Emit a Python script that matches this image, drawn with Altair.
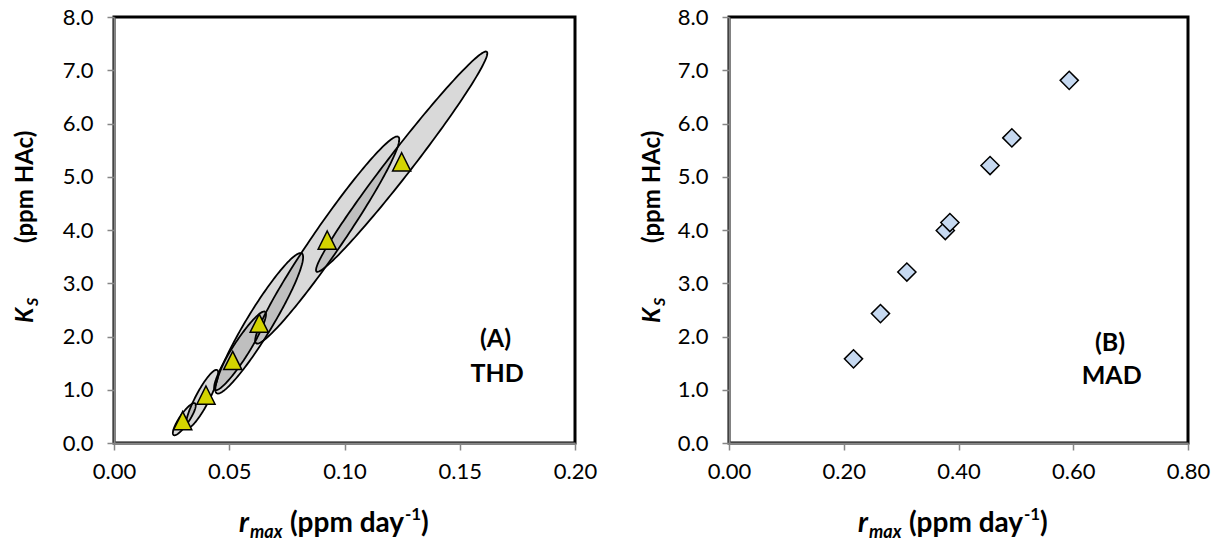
import math
import altair as alt
import pandas as pd
import numpy as np

# ---------------- data ----------------
# Panel A (THD): point estimates
thd_rmax = [0.0298, 0.0399, 0.0515, 0.0630, 0.0925, 0.1248]
thd_ks = [0.42, 0.90, 1.55, 2.25, 3.81, 5.28]

# Panel A: confidence ellipses (centre, end of the long half-axis, short/long ratio)
ell_cx = [0.0305, 0.0382, 0.0547, 0.0630, 0.0925, 0.1248]
ell_cy = [0.447, 0.826, 1.731, 2.248, 3.812, 5.283]
ell_tipx = [0.0351, 0.0447, 0.0655, 0.0814, 0.1233, 0.1617]
ell_tipy = [0.746, 1.371, 2.466, 3.563, 5.752, 7.348]
ell_ratio = [0.25, 0.20, 0.17, 0.15, 0.11, 0.085]

# Panel B (MAD)
mad_rmax = [0.217, 0.264, 0.310, 0.377, 0.385, 0.455, 0.493, 0.593]
mad_ks = [1.58, 2.43, 3.21, 3.99, 4.14, 5.21, 5.73, 6.81]

# axis ticks
a_xticks = [0.00, 0.05, 0.10, 0.15, 0.20]
b_xticks = [0.00, 0.20, 0.40, 0.60, 0.80]
yticks = [0, 1, 2, 3, 4, 5, 6, 7, 8]

A_XMAX, B_XMAX, YMAX = 0.20, 0.80, 8.0

# ---------------- ellipse geometry ----------------
area_rows, line_rows = [], []
for i in range(len(ell_cx)):
    cu, cv = ell_cx[i] / A_XMAX, ell_cy[i] / YMAX
    au, av = (ell_tipx[i] - ell_cx[i]) / A_XMAX, (ell_tipy[i] - ell_cy[i]) / YMAX
    bu, bv = -av * ell_ratio[i], au * ell_ratio[i]
    R = math.hypot(au, bu)
    phi = math.atan2(bu, au)
    for s in np.linspace(0, math.pi, 121):
        t1, t2 = phi + s, phi - s
        u = cu + R * math.cos(s)
        v1 = cv + av * math.cos(t1) + bv * math.sin(t1)
        v2 = cv + av * math.cos(t2) + bv * math.sin(t2)
        area_rows.append({"e": i, "x": u * A_XMAX, "y": v1 * YMAX, "y2": v2 * YMAX})
    for k, t in enumerate(np.linspace(0, 2 * math.pi, 181)):
        u = cu + au * math.cos(t) + bu * math.sin(t)
        v = cv + av * math.cos(t) + bv * math.sin(t)
        line_rows.append({"e": i, "k": k, "x": u * A_XMAX, "y": v * YMAX})

df_area = pd.DataFrame(area_rows)
df_line = pd.DataFrame(line_rows)
df_a = pd.DataFrame({"x": thd_rmax, "y": thd_ks})
df_b = pd.DataFrame({"x": mad_rmax, "y": mad_ks})

FONT = "Lato"
GRAY = "#868686"
W_A, W_B, H = 461, 459, 426


def x_enc(xmax, ticks):
    return alt.X(
        "x:Q",
        scale=alt.Scale(domain=[0, xmax], nice=False, zero=False),
        axis=alt.Axis(
            values=ticks, format=".2f", title=None, grid=False,
            domainColor=GRAY, domainWidth=2, tickColor=GRAY, tickWidth=1.5,
            tickSize=7, labelPadding=11, labelFont=FONT, labelFontSize=22,
            labelColor="black", labelFlush=False, labelOverlap=False,
        ),
    )


def y_enc():
    return alt.Y(
        "y:Q",
        scale=alt.Scale(domain=[0, YMAX], nice=False, zero=False),
        axis=alt.Axis(
            values=yticks, format=".1f", title=None, grid=False,
            domainColor=GRAY, domainWidth=2, tickColor=GRAY, tickWidth=1.5,
            tickSize=7, labelPadding=14, labelFont=FONT, labelFontSize=22,
            labelColor="black", labelOverlap=False,
        ),
    )


def txt(text, x, y, size, italic=False, angle=0, align="left", baseline="alphabetic"):
    return alt.Chart(pd.DataFrame({"t": [text]})).mark_text(
        font=FONT, fontSize=size, fontWeight="bold",
        fontStyle="italic" if italic else "normal",
        angle=angle, align=align, baseline=baseline, color="black",
    ).encode(x=alt.value(x), y=alt.value(y), text="t:N")


def titles(xstart, ybase, ytx):
    # x title: r_max (ppm day^-1)
    parts = [
        txt("r", xstart, ybase, 28, italic=True),
        txt("max", xstart + 11, ybase + 6, 18, italic=True),
        txt("(ppm day", xstart + 51, ybase, 28),
        txt("-1", xstart + 51 + 115, ybase - 12, 17),
        txt(")", xstart + 51 + 115 + 16, ybase, 28),
    ]
    # y title: K_S    (ppm HAc), rotated
    ky = 306
    parts += [
        txt("K", ytx, ky, 24, italic=True, angle=270),
        txt("S", ytx + 5, ky - 17, 16, italic=True, angle=270),
        txt("(ppm HAc)", ytx, ky - 80, 24, angle=270),
    ]
    return parts


xa = x_enc(A_XMAX, a_xticks)
xb = x_enc(B_XMAX, b_xticks)

ell_fill = alt.Chart(df_area).mark_area(color="#888888", opacity=0.32).encode(
    x=xa, y=y_enc(), y2="y2:Q", detail="e:N"
)
ell_line = alt.Chart(df_line).mark_line(color="black", strokeWidth=1.8).encode(
    x=xa, y=y_enc(), detail="e:N", order="k:Q"
)
tri = alt.Chart(df_a).mark_point(
    shape="M0,-1L1,1L-1,1Z", size=330, filled=True, fill="#d4d400",
    stroke="black", strokeWidth=1.5, opacity=1,
).encode(x=xa, y=y_enc())

lab_a = [
    alt.Chart(pd.DataFrame({"t": ["(A)"]})).mark_text(
        font=FONT, fontSize=25, fontWeight="bold", color="black", baseline="middle"
    ).encode(x=alt.datum(0.1655), y=alt.datum(1.95), text="t:N"),
    alt.Chart(pd.DataFrame({"t": ["THD"]})).mark_text(
        font=FONT, fontSize=25, fontWeight="bold", color="black", baseline="middle"
    ).encode(x=alt.datum(0.1662), y=alt.datum(1.30), text="t:N"),
]

panel_a = alt.layer(
    ell_fill, ell_line, tri, *lab_a, *titles(125, 515, -81)
).properties(width=W_A, height=H)

dia = alt.Chart(df_b).mark_point(
    shape="M-1,0L0,-1L1,0L0,1Z", size=330, filled=True, fill="#c6d9f1",
    stroke="black", strokeWidth=1.5, opacity=1,
).encode(x=xb, y=y_enc())

lab_b = [
    alt.Chart(pd.DataFrame({"t": ["(B)"]})).mark_text(
        font=FONT, fontSize=25, fontWeight="bold", color="black", baseline="middle"
    ).encode(x=alt.datum(0.664), y=alt.datum(1.88), text="t:N"),
    alt.Chart(pd.DataFrame({"t": ["MAD"]})).mark_text(
        font=FONT, fontSize=25, fontWeight="bold", color="black", baseline="middle"
    ).encode(x=alt.datum(0.667), y=alt.datum(1.26), text="t:N"),
]

panel_b = alt.layer(dia, *lab_b, *titles(129, 515, -69)).properties(width=W_B, height=H)

chart = alt.hconcat(panel_a, panel_b, spacing=154, bounds="flush").properties(
    autosize=alt.AutoSizeParams(type="none"),
    padding={"left": 114, "top": 17, "right": 1106, "bottom": 527},
    background="white",
).configure_view(stroke="black", strokeWidth=3)

chart.save("out.html", embed_options={"renderer": "svg", "actions": False})
